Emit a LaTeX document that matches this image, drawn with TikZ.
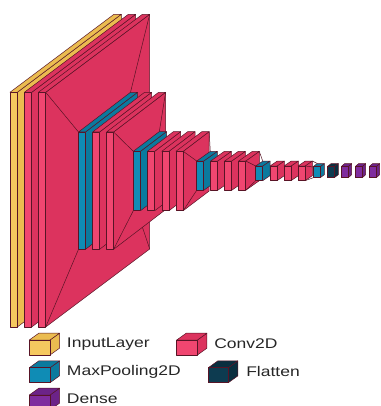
\documentclass[tikz,border=0pt]{standalone}
\usepackage{fontspec}
\setmainfont{Liberation Sans}

\definecolor{inputfront}{HTML}{F5C85F}
\definecolor{inputside}{HTML}{EBBC50}
\definecolor{convfront}{HTML}{F04670}
\definecolor{convside}{HTML}{DC335E}
\definecolor{poolfront}{HTML}{0F8CB5}
\definecolor{poolside}{HTML}{0B7A9E}
\definecolor{flatfront}{HTML}{0D3B50}
\definecolor{flatside}{HTML}{0A2E3F}
\definecolor{densefront}{HTML}{7F2C9E}
\definecolor{denseside}{HTML}{6C2388}

\tikzset{
    edge/.style={draw=black!60!convside, line width=0.5pt, line join=round},
    funnel/.style={black!60!convside, line width=0.5pt},
    legendtext/.style={anchor=west, inner sep=0pt, font=\fontsize{14}{14}\selectfont, xscale=1.25, text=black!85}
}

% x, top, bottom, width, depth x, depth y, colour prefix
\newcommand{\layerbox}[7]{
    \fill[#7side, edge] (#1+#4, #2) -- ++(#5, -#6) -- (#1+#4+#5, #3-#6) -- (#1+#4, #3) -- cycle;
    \fill[#7side, edge] (#1, #2) -- ++(#5, -#6) -- ++(#4, 0) -- (#1+#4, #2) -- cycle;
    \fill[#7front, edge] (#1, #2) rectangle (#1+#4, #3);
}

\begin{document}
\begin{tikzpicture}[x=1pt, y=-1pt]
    \useasboundingbox (0, 0) rectangle (380, 406);

    % Group 1
    \layerbox{10}{92.3}{327}{7.3}{104}{78}{input}
    \foreach \x in {24.4, 38.4} {
        \layerbox{\x}{92.3}{327}{7.3}{104}{78}{conv}
    }

    % Funnel 1
    \draw[funnel] (45.7, 92.3) -- (78.5, 132);
    \draw[funnel] (45.7, 327) -- (78.5, 249.3);
    \draw[funnel] (149.7, 14.3) -- (130.5, 92.3);
    \draw[funnel] (149.7, 249) -- (140, 220);

    % Group 2
    \layerbox{78.5}{132}{249.3}{7}{52}{39.7}{pool}
    \foreach \x in {92.6, 106.6} {
        \layerbox{\x}{132}{249.3}{7}{52}{39.7}{conv}
    }

    % Funnel 2
    \draw[funnel] (113.6, 132) -- (133.3, 151.3);
    \draw[funnel] (113.6, 249.3) -- (133.3, 210.7);
    \draw[funnel] (165.6, 92.3) -- (159.3, 131.7);

    % Group 3
    \layerbox{133.3}{151.3}{210.7}{7.2}{26}{19.7}{pool}
    \foreach \x in {147.5, 161.8, 176} {
        \layerbox{\x}{151.3}{210.7}{7.2}{26}{19.7}{conv}
    }

    % Funnel 3
    \draw[funnel] (183.2, 151.3) -- (196.7, 161);
    \draw[funnel] (183.2, 210.7) -- (196.7, 190.3);
    \draw[funnel] (209.2, 131.6) -- (210.3, 151.7);

    % Group 4
    \layerbox{196.7}{161}{190.3}{7}{13.6}{9.6}{pool}
    \foreach \x in {210.7, 224.7, 238.7} {
        \layerbox{\x}{161}{190.3}{7}{13.6}{9.6}{conv}
    }

    % Funnel 4
    \draw[funnel] (245.7, 161) -- (255.7, 166);
    \draw[funnel] (245.7, 190.3) -- (255.7, 180.7);
    \draw[funnel] (259.3, 151.4) -- (262.7, 161);

    % Group 5
    \layerbox{255.7}{166}{180.7}{7}{7.3}{5}{pool}
    \foreach \x in {270, 284, 298} {
        \layerbox{\x}{166}{180.7}{7}{7.3}{5}{conv}
    }

    % Funnel 5
    \draw[funnel] (305, 166) -- (313.3, 167);
    \draw[funnel] (305, 180.7) -- (313.3, 177.7);
    \draw[funnel] (312.3, 161) -- (317.3, 163.5);

    % Group 6
    \layerbox{313.3}{166.5}{177.7}{7}{4}{3}{pool}
    \layerbox{327.3}{166.5}{177.7}{7}{4}{3}{flat}
    \foreach \x in {341.3, 355.3, 369.3} {
        \layerbox{\x}{166.5}{177.7}{7}{3.4}{3}{dense}
    }

    % Legend
    \foreach \x/\y/\w/\col in {
        29.3/340/20.7/input,
        29.3/367.7/20.7/pool,
        29.3/395/20.7/dense,
        176.7/340/20.7/conv,
        208.3/367.7/20/flat} {
        \layerbox{\x}{\y}{\y+15}{\w}{9.5}{6.8}{\col}
    }
    \node[legendtext] (inputlabel) at (66.7, 344) {InputLayer};
    \node[legendtext] (poollabel) at (66.7, 371.5) {MaxPooling2D};
    \node[legendtext] (denselabel) at (66.7, 398.5) {Dense};
    \node[legendtext] (convlabel) at (214, 344) {Conv2D};
    \node[legendtext] (flatlabel) at (246, 371.5) {Flatten};
\end{tikzpicture}
\end{document}
